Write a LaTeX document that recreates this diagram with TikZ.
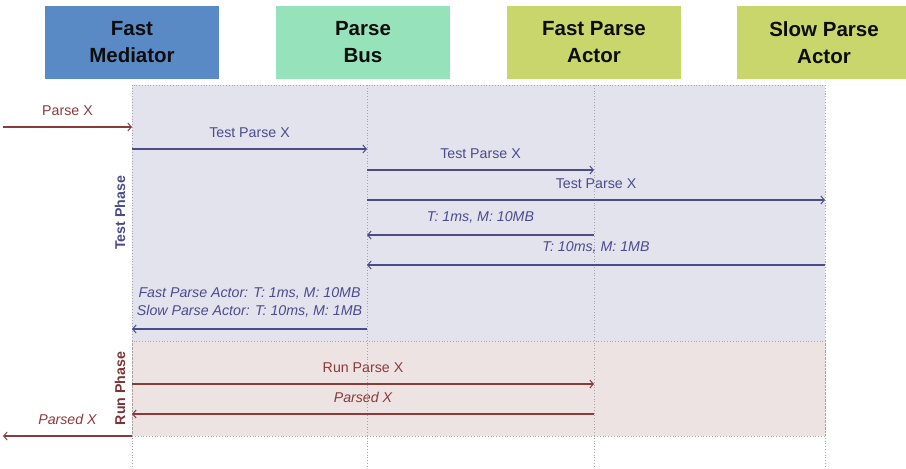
\documentclass[tikz,border=0pt]{standalone}
\usepackage{fontspec}
\usetikzlibrary{arrows.meta}
\setmainfont{Liberation Sans}
\definecolor{fmblue}{HTML}{5A8AC6}
\definecolor{pbgreen}{HTML}{96E2BB}
\definecolor{actgreen}{HTML}{C9D66B}
\definecolor{testbg}{HTML}{E3E3EE}
\definecolor{runbg}{HTML}{EDE3E2}
\definecolor{tcol}{HTML}{4B4B8C}
\definecolor{rcol}{HTML}{8B3A3A}
\tikzset{
  head/.style={minimum width=174pt, minimum height=73pt, align=center, inner sep=0pt,
    font=\fontsize{20.5}{27}\selectfont\bfseries, text=black!95},
  life/.style={gray!70, dotted, line width=.8pt},
  phasebox/.style={gray!70, dotted, line width=.8pt},
  tmsg/.style={tcol, line width=1.1pt},
  rmsg/.style={rcol, line width=1.1pt},
  lbl/.style={above=7.5pt, font=\fontsize{14.2}{18}\selectfont},
  phase/.style={font=\fontsize{14.2}{16}\selectfont\bfseries, rotate=90}
}
\begin{document}
\begin{tikzpicture}[x=1pt, y=-1pt, line join=round, >={Straight Barb[length=3.5pt,width=8pt,line width=1pt]}]
	\useasboundingbox (0,0) rectangle (906,469);
	% participants
	\foreach \n/\x/\c/\t in {fm/132/fmblue/{Fast\\Mediator}, pb/363/pbgreen/{Parse\\Bus},
	  fpa/594/actgreen/{Fast Parse\\Actor}, spa/824/actgreen/{Slow Parse\\Actor}}
	  \node[head, fill=\c] (\n) at (\x,42.5) {\t};
	% phases
	\coordinate (src) at (3,127); \coordinate (dst) at (3,436);
	\foreach \n/\x in {l1/132,l2/367,l3/594,l4/825} \coordinate (\n) at (\x,85);
	\filldraw[phasebox, fill=testbg] (l1) rectangle (l4 |- 0,341);
	\filldraw[phasebox, fill=runbg] (l1 |- 0,341) rectangle (l4 |- 0,436);
	\foreach \n in {l1,l2,l3,l4} \draw[life] (\n) -- (\n |- 0,469);
	\node[phase, text=tcol] (tp) at (120,213) {Test Phase};
	\node[phase, text=rcol!90!black] (rp) at (120,388.5) {Run Phase};
	% test messages
	\draw[rmsg,->] (src) -- node[lbl]{Parse X} (l1 |- src);
	\draw[tmsg,->] (l1 |- 0,149) -- node[lbl]{Test Parse X} (l2 |- 0,149);
	\draw[tmsg,->] (l2 |- 0,170) -- node[lbl]{Test Parse X} (l3 |- 0,170);
	\draw[tmsg,->] (l2 |- 0,200) -- node[lbl]{Test Parse X} (l4 |- 0,200);
	\draw[tmsg,->] (l3 |- 0,235) -- node[lbl]{\itshape T: 1ms, M: 10MB} (l2 |- 0,235);
	\draw[tmsg,->] (l4 |- 0,265) -- node[lbl]{\itshape T: 10ms, M: 1MB} (l2 |- 0,265);
	\draw[tmsg,->] (l2 |- 0,329) -- node[lbl, align=center]{\itshape Fast Parse Actor: T: 1ms, M: 10MB\\\itshape Slow Parse Actor: T: 10ms, M: 1MB} (l1 |- 0,329);
	% run messages
	\draw[rmsg,->] (l1 |- 0,384) -- node[lbl]{Run Parse X} (l3 |- 0,384);
	\draw[rmsg,->] (l3 |- 0,414) -- node[lbl]{\itshape Parsed X} (l1 |- 0,414);
	\draw[rmsg,->] (l1 |- dst) -- node[lbl]{\itshape Parsed X} (dst);
\end{tikzpicture}
\end{document}
